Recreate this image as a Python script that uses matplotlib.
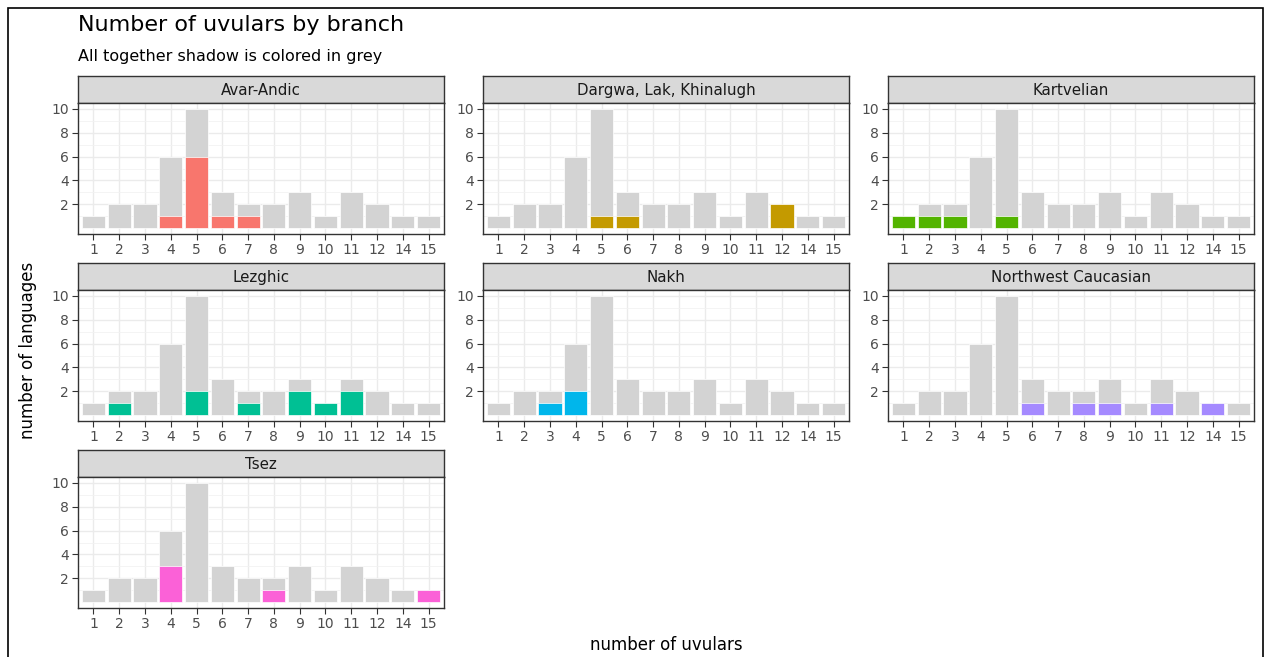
import matplotlib
matplotlib.use('Agg')
import matplotlib.pyplot as plt
from matplotlib.patches import Rectangle

import numpy as np

plt.rcParams['font.family'] = ['DejaVu Sans']

uvulars = ['1', '2', '3', '4', '5', '6', '7', '8', '9', '10', '11', '12', '14', '15']
total = [1, 2, 2, 6, 10, 3, 2, 2, 3, 1, 3, 2, 1, 1]

branches = ['Avar-Andic', 'Dargwa, Lak, Khinalugh', 'Kartvelian', 'Lezghic',
            'Nakh', 'Northwest Caucasian', 'Tsez']
avar_andic = [0, 0, 0, 1, 6, 1, 1, 0, 0, 0, 0, 0, 0, 0]
dargwa_lak = [0, 0, 0, 0, 1, 1, 0, 0, 0, 0, 0, 2, 0, 0]
kartvelian = [1, 1, 1, 0, 1, 0, 0, 0, 0, 0, 0, 0, 0, 0]
lezghic = [0, 1, 0, 0, 2, 0, 1, 0, 2, 1, 2, 0, 0, 0]
nakh = [0, 0, 1, 2, 0, 0, 0, 0, 0, 0, 0, 0, 0, 0]
nw_caucasian = [0, 0, 0, 0, 0, 1, 0, 1, 1, 0, 1, 0, 1, 0]
tsez = [0, 0, 0, 3, 0, 0, 0, 1, 0, 0, 0, 0, 0, 1]
branch_counts = [avar_andic, dargwa_lak, kartvelian, lezghic, nakh, nw_caucasian, tsez]

colors = ['#F8766D', '#C49A00', '#53B400', '#00C094', '#00B6EB', '#A58AFF', '#FB61D7']

W, H = 1266, 657
fig = plt.figure(figsize=(W / 100, H / 100), dpi=100)

# outer frame
fig.patches.append(Rectangle((8 / W, -0.05), (1263 - 8) / W, (H - 8) / H + 0.05,
                             transform=fig.transFigure, fill=False,
                             edgecolor='black', linewidth=1.2, clip_on=False))

col_left = [78, 483, 888]
row_top = [76, 263, 450]
panel_w = 366
strip_h = 27
panel_h = 131

x = np.arange(len(uvulars))
for i, branch in enumerate(branches):
    r, c = divmod(i, 3)
    left = col_left[c]
    top = row_top[r]
    # strip
    sax = fig.add_axes([left / W, 1 - (top + strip_h) / H, panel_w / W, strip_h / H])
    sax.set_facecolor('#D9D9D9')
    sax.set_xticks([])
    sax.set_yticks([])
    for s in sax.spines.values():
        s.set_color('#333333')
        s.set_linewidth(1.0)
    sax.text(0.5, 0.45, branch, ha='center', va='center', fontsize=10.8,
             color='#1A1A1A', transform=sax.transAxes)

    ax = fig.add_axes([left / W, 1 - (top + strip_h + panel_h) / H, panel_w / W, panel_h / H])
    ax.set_xlim(-0.6, len(uvulars) - 0.4)
    ax.set_ylim(-0.5, 10.5)
    ax.set_yticks([2, 4, 6, 8, 10])
    ax.set_yticks([1, 3, 5, 7, 9], minor=True)
    ax.set_xticks(x)
    ax.set_xticklabels(uvulars)
    ax.grid(which='major', color='#EBEBEB', linewidth=1.0)
    ax.grid(which='minor', axis='y', color='#F2F2F2', linewidth=0.6)
    ax.set_axisbelow(True)
    ax.tick_params(which='major', length=4, width=0.8, color='#333333',
                   labelsize=10, labelcolor='#4D4D4D', pad=2.5)
    ax.tick_params(which='minor', length=0)
    for s in ax.spines.values():
        s.set_color('#333333')
        s.set_linewidth(1.0)

    ax.bar(x, total, width=0.9, color='#D3D3D3', edgecolor='white', linewidth=0.5)
    vals = np.array(branch_counts[i])
    mask = vals > 0
    ax.bar(x[mask], vals[mask], width=0.9, color=colors[i], edgecolor='white', linewidth=0.5)

fig.text(78 / W, 1 - 25 / H, 'Number of uvulars by branch', fontsize=16,
         ha='left', va='center', color='black')
fig.text(78 / W, 1 - 57 / H, 'All together shadow is colored in grey', fontsize=11.5,
         ha='left', va='center', color='black')
fig.text(28 / W, 1 - 350 / H, 'number of languages', fontsize=12, rotation=90,
         ha='center', va='center', color='black')
fig.text(666 / W, 1 - 645 / H, 'number of uvulars', fontsize=12,
         ha='center', va='center', color='black')

plt.savefig('out.png', dpi=100)
